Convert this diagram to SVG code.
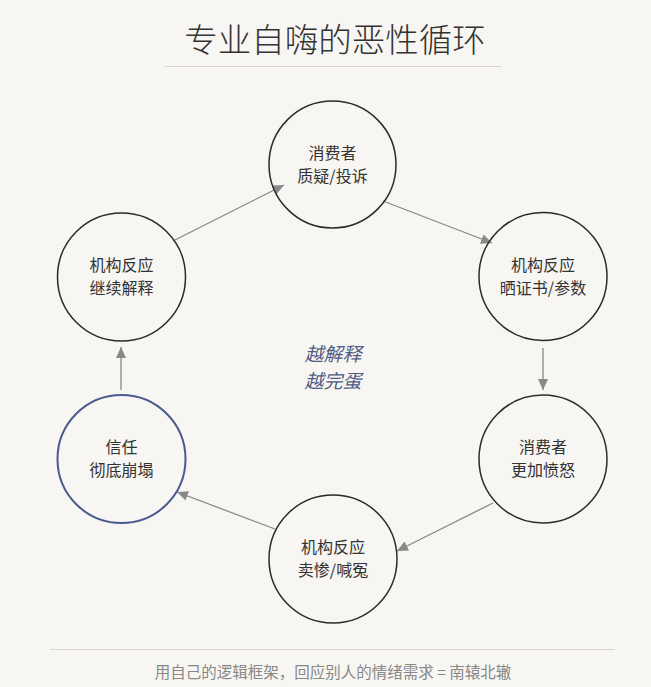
<svg xmlns="http://www.w3.org/2000/svg" width="651" height="687" viewBox="0 0 651 687">
<defs>
<style>
.bg{fill:#f7f6f2}
.node circle{fill:none;stroke:#2b2b2b;stroke-width:1.5}
.node.blue circle{stroke:#4b5a8f;stroke-width:2}
.node text{font-family:"Noto Sans CJK SC","Noto Sans",sans-serif;font-size:16px;fill:#333;text-anchor:middle}
.title{font-family:"Noto Sans CJK SC",sans-serif;font-weight:300;font-size:33.5px;fill:#333;text-anchor:middle}
.rule{stroke:#d9d6d1;stroke-width:1}
.conn line{stroke:#888;stroke-width:1.3;marker-end:url(#ah)}
.center{font-family:"Noto Sans CJK SC",sans-serif;font-size:19px;font-style:italic;fill:#4f5b85;text-anchor:middle}
.foot{font-family:"Noto Sans CJK SC",sans-serif;font-size:15.5px;fill:#888;text-anchor:middle}
</style>
<marker id="ah" markerUnits="userSpaceOnUse" markerWidth="12" markerHeight="12" viewBox="0 0 12 12" refX="11" refY="6" orient="auto">
<path d="M0,1 L11,6 L0,11 Z" fill="#888"/>
</marker>
</defs>
<rect class="bg" x="0" y="0" width="651" height="687"/>
<text class="title" x="335" y="52">专业自嗨的恶性循环</text>
<line class="rule" x1="164" y1="66.5" x2="501" y2="66.5"/>
<g class="conn">
<line x1="173" y1="241" x2="284" y2="185"/>
<line x1="383" y1="201" x2="492" y2="243"/>
<line x1="543" y1="348" x2="543" y2="390"/>
<line x1="493" y1="503" x2="397" y2="551"/>
<line x1="275" y1="529" x2="177" y2="492"/>
<line x1="121" y1="390" x2="121" y2="347"/>
</g>
<g id="n1" class="node"><circle cx="332.5" cy="164.5" r="63.5"/><text x="332.5" y="159">消费者</text><text x="332.5" y="182">质疑/投诉</text></g>
<g id="n2" class="node"><circle cx="543" cy="276.5" r="64"/><text x="543" y="271">机构反应</text><text x="543" y="294">晒证书/参数</text></g>
<g id="n3" class="node"><circle cx="543" cy="459" r="64"/><text x="543" y="453">消费者</text><text x="543" y="476">更加愤怒</text></g>
<g id="n4" class="node"><circle cx="333" cy="559" r="64"/><text x="333" y="553">机构反应</text><text x="333" y="576">卖惨/喊冤</text></g>
<g id="n5" class="node blue"><circle cx="121.5" cy="459" r="64"/><text x="121.5" y="453">信任</text><text x="121.5" y="476">彻底崩塌</text></g>
<g id="n6" class="node"><circle cx="121.5" cy="277" r="64"/><text x="121.5" y="271">机构反应</text><text x="121.5" y="294">继续解释</text></g>
<text class="center" x="333" y="361">越解释</text>
<text class="center" x="333" y="388">越完蛋</text>
<line class="rule" x1="50" y1="649.5" x2="615" y2="649.5"/>
<text class="foot" x="333" y="678">用自己的逻辑框架，回应别人的情绪需求 = 南辕北辙</text>
</svg>
